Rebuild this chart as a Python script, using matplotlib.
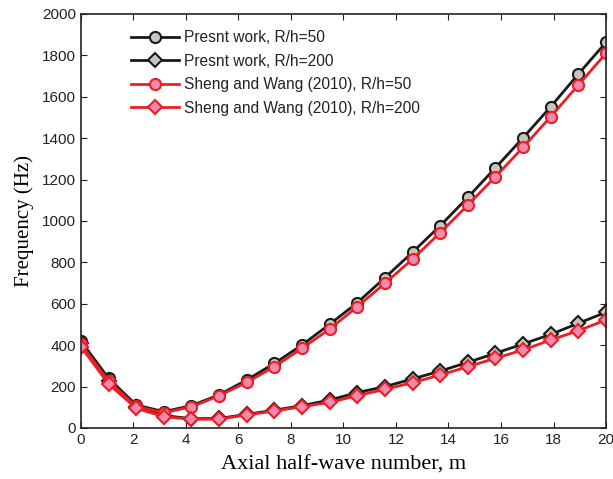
import numpy as np
import matplotlib
matplotlib.use("Agg")
import matplotlib.pyplot as plt

# axial half-wave positions as plotted (20 points spread over 0..20)
m = np.linspace(0, 20, 20)

present_50 = [420, 240, 111, 79, 108, 160, 232, 312, 401, 501,
              605, 726, 849, 977, 1114, 1257, 1402, 1552, 1710, 1863]
present_200 = [410, 228, 100, 60, 45, 46, 66, 86, 108, 135,
               171, 200, 237, 275, 317, 361, 406, 452, 506, 559]
sheng_50 = [405, 226, 104, 74, 102, 156, 221, 296, 385, 478,
            586, 699, 816, 943, 1077, 1214, 1356, 1504, 1657, 1810]
sheng_200 = [393, 213, 95, 55, 42, 43, 63, 82, 103, 124,
             156, 187, 219, 256, 296, 337, 377, 425, 470, 522]

labels = ["Presnt work, R/h=50", "Presnt work, R/h=200",
          "Sheng and Wang (2010), R/h=50", "Sheng and Wang (2010), R/h=200"]

fig = plt.figure(figsize=(6.13, 4.79), dpi=100)
ax = fig.add_axes([0.132, 0.1065, 0.8566, 0.8643])

blk = '#1a1a1a'
red = '#ee1c25'
ax.plot(m, present_50, '-o', color=blk, lw=2, ms=8, mfc='#c9c5bb', mec=blk, mew=1.5, label=labels[0])
ax.plot(m, present_200, '-D', color=blk, lw=2, ms=7, mfc='#c9c5bb', mec=blk, mew=1.5, label=labels[1])
ax.plot(m, sheng_50, '-o', color=red, lw=2, ms=8, mfc='#f08aae', mec=red, mew=1.5, label=labels[2])
ax.plot(m, sheng_200, '-D', color=red, lw=2, ms=7, mfc='#f08aae', mec=red, mew=1.5, label=labels[3])

ax.set_xlim(0, 20)
ax.set_ylim(0, 2000)
ax.set_xticks(np.arange(0, 21, 2))
ax.set_yticks(np.arange(0, 2001, 200))
ax.tick_params(direction='in', top=True, right=True, labelsize=11, colors='#222222', length=4)
for lab in ax.get_xticklabels() + ax.get_yticklabels():
    lab.set_family('Liberation Sans')
for s in ax.spines.values():
    s.set_color('#222222')
    s.set_linewidth(1.2)

ax.set_xlabel('Axial half-wave number, m', family='Liberation Serif', fontsize=16, labelpad=6)
ax.set_ylabel('Frequency (Hz)', family='Liberation Serif', fontsize=15, labelpad=6)

leg = ax.legend(loc='upper left', bbox_to_anchor=(0.068, 0.995), frameon=False,
                prop={'family': 'Liberation Sans', 'size': 11.2}, handlelength=3.1,
                labelspacing=0.55, handletextpad=0.35)
for t in leg.get_texts():
    t.set_color('#222222')

fig.savefig('out.png', dpi=100)
